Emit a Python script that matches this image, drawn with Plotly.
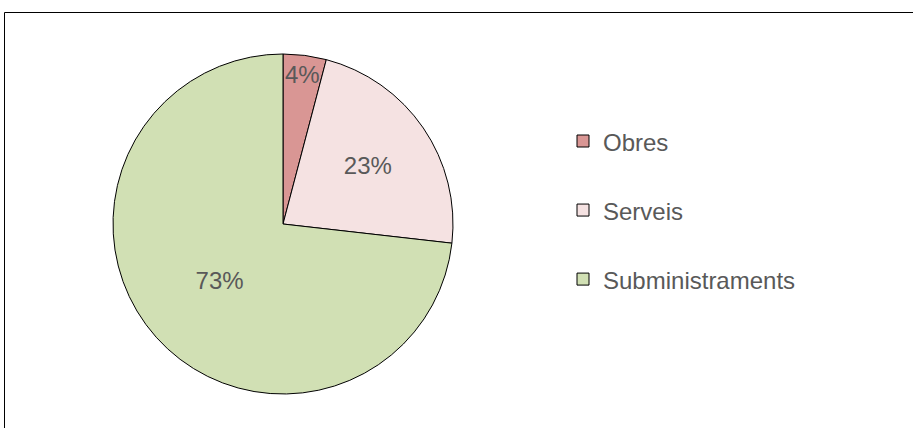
import plotly.graph_objects as go

categories = ["Obres", "Serveis", "Subministraments"]
shares = [4.1, 22.7, 73.2]
colors = ["#D99694", "#F5E2E2", "#D1E0B4"]

W, H = 913, 428
FONT = "Helvetica Neue, Liberation Sans, Arial, sans-serif"
TXT = "#595959"

# pie geometry in pixels (center, radius)
cx, cy, R = 283, 224, 170

legend_labels = [f"<span style='font-size:24px'>{c}</span><br>&nbsp;" for c in categories]

fig = go.Figure(
    go.Pie(
        labels=legend_labels,
        values=shares,
        sort=False,
        direction="clockwise",
        rotation=0,
        marker=dict(colors=colors, line=dict(color="#000000", width=1)),
        texttemplate="%{percent:.0%}",
        textposition="inside",
        insidetextorientation="horizontal",
        textfont=dict(family=FONT, size=24, color=TXT),
        hoverinfo="skip",
        domain=dict(
            x=[(cx - R) / W, (cx + R) / W],
            y=[(H - cy - R) / H, (H - cy + R) / H],
        ),
    )
)

fig.update_layout(
    width=W,
    height=H,
    autosize=False,
    margin=dict(l=0, r=0, t=0, b=0),
    paper_bgcolor="white",
    plot_bgcolor="white",
    font=dict(family=FONT, color=TXT),
    uniformtext=dict(minsize=24, mode="show"),
    legend=dict(
        x=563 / W,
        xanchor="left",
        y=1 - 118 / H,
        yanchor="top",
        valign="top",
        font=dict(family=FONT, size=25.4, color=TXT),
        bgcolor="rgba(0,0,0,0)",
    ),
    shapes=[
        dict(
            type="rect",
            xref="paper",
            yref="paper",
            x0=4.5 / W,
            x1=1.05,
            y0=-0.05,
            y1=1 - 12.5 / H,
            line=dict(color="#000000", width=1),
            fillcolor="rgba(0,0,0,0)",
            layer="below",
        )
    ],
)

fig.write_html(
    "out.html",
    config={"displayModeBar": False},
    post_script="document.body.style.margin='0';document.body.style.overflow='hidden';",
)
